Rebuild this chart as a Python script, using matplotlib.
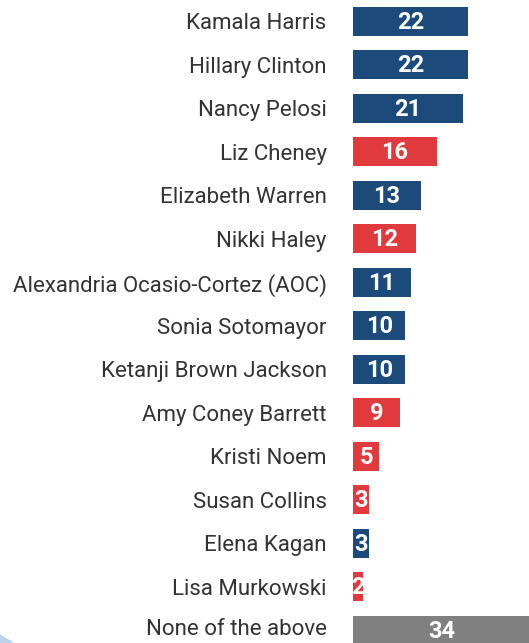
import matplotlib
matplotlib.use("Agg")
import matplotlib.pyplot as plt
from matplotlib import font_manager as fm
from matplotlib.patches import Polygon
from matplotlib.transforms import ScaledTranslation

names = ["Kamala Harris", "Hillary Clinton", "Nancy Pelosi", "Liz Cheney",
         "Elizabeth Warren", "Nikki Haley", "Alexandria Ocasio-Cortez (AOC)",
         "Sonia Sotomayor", "Ketanji Brown Jackson", "Amy Coney Barrett",
         "Kristi Noem", "Susan Collins", "Elena Kagan", "Lisa Murkowski",
         "None of the above"]
values = [22, 22, 21, 16, 13, 12, 11, 10, 10, 9, 5, 3, 3, 2, 34]
party = ["D", "D", "D", "R", "D", "R", "D", "D", "D", "R", "R", "R", "D", "R", "N"]

colors = {"D": "#1b4a7b", "R": "#e0393e", "N": "#808080"}

avail = {f.name for f in fm.fontManager.ttflist}
narrow = "Liberation Sans Narrow" if "Liberation Sans Narrow" in avail else "Roboto"

W, H = 529, 643
fig = plt.figure(figsize=(W / 100, H / 100), dpi=100)
px = 5.23
left = 353
ax = fig.add_axes([left / W, 0, (W - left) / W, 1])
ax.set_xlim(0, (W - left) / px)
pitch = 43.5
c0 = 21.5
ax.set_ylim(14 + (H - (c0 + 14 * pitch)) / pitch, -c0 / pitch)

ys = list(range(len(names)))
ax.barh(ys, values, height=29 / pitch, color=[colors[p] for p in party], left=0)
for y, v in zip(ys, values):
    ax.text(v / 2, y + 0.02, str(v), ha="center", va="center", color="white",
            fontsize=17, fontweight="bold", family=[narrow, "DejaVu Sans"])

ax.set_yticks(ys)
ax.set_yticklabels(names, fontsize=16, color="#333333", family=[narrow, "DejaVu Sans"])
ax.tick_params(axis="y", length=0, pad=19)
ax.tick_params(axis="x", length=0, labelbottom=False)
for s in ax.spines.values():
    s.set_visible(False)
ax.set_xticks([])

last = ax.get_yticklabels()[-1]
last.set_transform(last.get_transform() + ScaledTranslation(0, 3 / 100, fig.dpi_scale_trans))

fig.patches.append(Polygon([[0, 0], [13 / W, 0], [0, 8 / H]], closed=True,
                           transform=fig.transFigure, color="#b9d3ea", zorder=0))

fig.savefig("out.png", dpi=100)
